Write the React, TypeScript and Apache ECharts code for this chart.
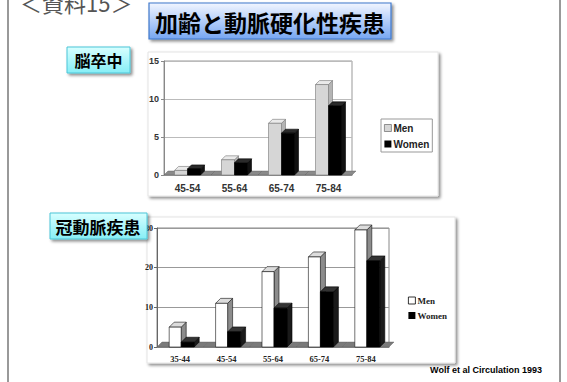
import React, { useEffect, useRef } from "react";
import * as echarts from "echarts";

const cats1 = ["45-54", "55-64", "65-74", "75-84"];
const men1 = [0.6, 2.0, 6.8, 11.9];
const women1 = [0.8, 1.6, 5.5, 9.1];

const cats2 = ["35-44", "45-54", "55-64", "65-74", "75-84"];
const men2 = [5, 11, 19, 22.7, 29.5];
const women2 = [1.2, 3.8, 9.8, 13.9, 21.7];

const legendNames = ["Men", "Women"];
const titleText = "加齢と動脈硬化性疾患";
const label1 = "脳卒中";
const label2 = "冠動脈疾患";
const cornerText = "＜資料15＞";
const sourceText = "Wolf et al Circulation 1993";

type BarStyle = {
  offset: number;
  bw: number;
  d: number;
  front: string;
  side: string;
  top: string;
  stroke: string;
  floor?: string;
};

function make3DRender(s: BarStyle) {
  return (params: any, api: any) => {
    const ci = api.value(0);
    const v = api.value(1);
    const p0 = api.coord([ci, 0]);
    const p1 = api.coord([ci, v]);
    const cx = p0[0];
    const y0 = p0[1];
    const y1 = p1[1];
    const x0 = cx + s.offset;
    const x1 = x0 + s.bw;
    const d = s.d;
    const children: any[] = [];
    if (s.floor) {
      const band = api.size([1, 0])[0];
      children.push({
        type: "polygon",
        shape: {
          points: [
            [cx - band / 2, y0],
            [cx + band / 2, y0],
            [cx + band / 2 + d, y0 - d],
            [cx - band / 2 + d, y0 - d],
          ],
        },
        style: { fill: s.floor, stroke: "#555", lineWidth: 0.4 },
      });
    }
    children.push({
      type: "polygon",
      shape: { points: [[x1, y1], [x1 + d, y1 - d], [x1 + d, y0 - d], [x1, y0]] },
      style: { fill: s.side, stroke: s.stroke, lineWidth: 0.6 },
    });
    children.push({
      type: "polygon",
      shape: { points: [[x0, y1], [x0 + d, y1 - d], [x1 + d, y1 - d], [x1, y1]] },
      style: { fill: s.top, stroke: s.stroke, lineWidth: 0.6 },
    });
    children.push({
      type: "rect",
      shape: { x: x0, y: y1, width: s.bw, height: y0 - y1 },
      style: { fill: s.front, stroke: s.stroke, lineWidth: 0.6 },
    });
    return { type: "group", children };
  };
}

export default function App() {
  const ref = useRef<HTMLDivElement>(null);
  useEffect(() => {
    if (!ref.current) return;
    const chart = echarts.init(ref.current, undefined, { renderer: "svg" });
    const sans = "Liberation Sans";
    const serif = "Liberation Serif";
    const cjk = "Noto Sans CJK JP";

    const option: any = {
      animation: false,
      backgroundColor: "#ffffff",
      grid: [
        { left: 164, top: 61, width: 188, height: 114, show: true, borderColor: "#999", borderWidth: 1, backgroundColor: "transparent" },
        { left: 157, top: 228, width: 232, height: 119, show: true, borderColor: "#888", borderWidth: 1, backgroundColor: "transparent" },
      ],
      xAxis: [
        {
          type: "category", gridIndex: 0, data: cats1,
          axisLine: { show: true, lineStyle: { color: "#999" } },
          axisTick: { show: false },
          axisLabel: { fontFamily: sans, fontWeight: "bold", fontSize: 10, color: "#333", margin: 8 },
        },
        {
          type: "category", gridIndex: 1, data: cats2,
          axisLine: { show: true, lineStyle: { color: "#888" } },
          axisTick: { show: false },
          axisLabel: { fontFamily: serif, fontWeight: "bold", fontSize: 8.5, color: "#222", margin: 7 },
        },
      ],
      yAxis: [
        {
          type: "value", gridIndex: 0, min: 0, max: 15, interval: 5,
          axisLine: { show: true, lineStyle: { color: "#888" } },
          axisTick: { show: true, length: 3, lineStyle: { color: "#888" } },
          splitLine: { show: true, lineStyle: { color: "#bbb", width: 1 } },
          axisLabel: { fontFamily: sans, fontWeight: "bold", fontSize: 9, color: "#333", margin: 5 },
        },
        {
          type: "value", gridIndex: 1, min: 0, max: 30, interval: 10,
          axisLine: { show: true, lineStyle: { color: "#666" } },
          axisTick: { show: true, length: 3, lineStyle: { color: "#666" } },
          splitLine: { show: true, lineStyle: { color: "#999", width: 1 } },
          axisLabel: { fontFamily: serif, fontWeight: "bold", fontSize: 8, color: "#222", margin: 4 },
        },
      ],
      legend: [
        {
          data: [
            { name: legendNames[0], icon: "rect", itemStyle: { color: "#d6d6d6", borderColor: "#777", borderWidth: 0.8 } },
            { name: legendNames[1], icon: "rect", itemStyle: { color: "#000", borderColor: "#000", borderWidth: 0 } },
          ],
          left: 381, top: 119, orient: "vertical",
          itemWidth: 7, itemHeight: 7, itemGap: 6,
          padding: [4, 3, 3, 3],
          borderColor: "#999", borderWidth: 1,
          selectedMode: false,
          textStyle: { fontFamily: sans, fontWeight: "bold", fontSize: 10, color: "#222", padding: [0, 0, 0, -3] },
        },
        {
          data: [
            { name: legendNames[0], icon: "rect", itemStyle: { color: "#fff", borderColor: "#000", borderWidth: 0.8 } },
            { name: legendNames[1], icon: "rect", itemStyle: { color: "#000", borderColor: "#000", borderWidth: 0 } },
          ],
          left: 406, top: 294, orient: "vertical",
          itemWidth: 7, itemHeight: 7, itemGap: 6,
          padding: [2, 2, 2, 2],
          selectedMode: false,
          textStyle: { fontFamily: serif, fontWeight: "bold", fontSize: 9, color: "#222", padding: [0, 0, 0, -3] },
        },
      ],
      series: [
        {
          type: "custom", name: legendNames[0], xAxisIndex: 0, yAxisIndex: 0, clip: false,
          itemStyle: { color: "#d6d6d6" },
          renderItem: make3DRender({ offset: -13, bw: 13, d: 4, front: "#d6d6d6", side: "#b4b4b4", top: "#eaeaea", stroke: "#777", floor: "#8a8a8a" }),
          data: men1.map((v, i) => [i, v]),
          encode: { x: 0, y: 1 },
        },
        {
          type: "custom", name: legendNames[1], xAxisIndex: 0, yAxisIndex: 0, clip: false,
          itemStyle: { color: "#000" },
          renderItem: make3DRender({ offset: 0, bw: 13, d: 4, front: "#000", side: "#111", top: "#2a2a2a", stroke: "#000" }),
          data: women1.map((v, i) => [i, v]),
          encode: { x: 0, y: 1 },
        },
        {
          type: "custom", name: legendNames[0], xAxisIndex: 1, yAxisIndex: 1, clip: false,
          itemStyle: { color: "#fff" },
          renderItem: make3DRender({ offset: -11, bw: 12, d: 5, front: "#ffffff", side: "#8c8c8c", top: "#dcdcdc", stroke: "#111", floor: "#7a7a7a" }),
          data: men2.map((v, i) => [i, v]),
          encode: { x: 0, y: 1 },
        },
        {
          type: "custom", name: legendNames[1], xAxisIndex: 1, yAxisIndex: 1, clip: false,
          itemStyle: { color: "#000" },
          renderItem: make3DRender({ offset: 1, bw: 13, d: 5, front: "#000", side: "#1a1a1a", top: "#333", stroke: "#000" }),
          data: women2.map((v, i) => [i, v]),
          encode: { x: 0, y: 1 },
        },
      ],
      graphic: [
        { type: "line", z: -10, shape: { x1: 8, y1: 0, x2: 8, y2: 382 }, style: { stroke: "#777", lineWidth: 1.5 } },
        { type: "line", z: -10, shape: { x1: 560, y1: 0, x2: 560, y2: 382 }, style: { stroke: "#777", lineWidth: 1.5 } },
        {
          type: "text", z: -10, left: 20, top: -9,
          style: { text: cornerText, font: `normal 22px "${cjk}"`, fill: "#555" },
        },
        // panels
        {
          type: "rect", z: -20, shape: { x: 148, y: 52, width: 290, height: 144 },
          style: { fill: "#fff", stroke: "#e4e4e4", lineWidth: 1, shadowBlur: 3, shadowColor: "rgba(0,0,0,0.45)", shadowOffsetX: 2, shadowOffsetY: 2 },
        },
        {
          type: "rect", z: -20, shape: { x: 147, y: 217, width: 308, height: 146 },
          style: { fill: "#fff", stroke: "#e4e4e4", lineWidth: 1, shadowBlur: 3, shadowColor: "rgba(0,0,0,0.45)", shadowOffsetX: 2, shadowOffsetY: 2 },
        },
        // title box
        {
          type: "rect", z: 5, shape: { x: 149, y: 3, width: 242, height: 36 },
          style: {
            fill: new echarts.graphic.LinearGradient(0, 0, 0, 1, [
              { offset: 0, color: "#f2f6ff" },
              { offset: 1, color: "#76a6f2" },
            ]),
            stroke: "#3f78cc", lineWidth: 1.2,
            shadowBlur: 3, shadowColor: "rgba(0,0,0,0.45)", shadowOffsetX: 2, shadowOffsetY: 2,
          },
        },
        {
          type: "text", z: 6, x: 270, y: 22,
          style: { text: titleText, font: `bold 23px "${cjk}"`, fill: "#000", align: "center", verticalAlign: "middle" },
        },
        // label 1
        {
          type: "rect", z: 5, shape: { x: 67, y: 47, width: 63, height: 26 },
          style: {
            fill: new echarts.graphic.LinearGradient(0, 0, 0, 1, [
              { offset: 0, color: "#d8ffff" },
              { offset: 1, color: "#86eef6" },
            ]),
            stroke: "#4cc6d8", lineWidth: 1,
            shadowBlur: 3, shadowColor: "rgba(0,0,0,0.45)", shadowOffsetX: 2, shadowOffsetY: 2,
          },
        },
        {
          type: "text", z: 6, x: 98.5, y: 60,
          style: { text: label1, font: `bold 16px "${cjk}"`, fill: "#000", align: "center", verticalAlign: "middle" },
        },
        // label 2
        {
          type: "rect", z: 5, shape: { x: 50, y: 213, width: 97, height: 26 },
          style: {
            fill: new echarts.graphic.LinearGradient(0, 0, 0, 1, [
              { offset: 0, color: "#d8ffff" },
              { offset: 1, color: "#86eef6" },
            ]),
            stroke: "#4cc6d8", lineWidth: 1,
            shadowBlur: 3, shadowColor: "rgba(0,0,0,0.45)", shadowOffsetX: 2, shadowOffsetY: 2,
          },
        },
        {
          type: "text", z: 6, x: 98, y: 226,
          style: { text: label2, font: `bold 17px "${cjk}"`, fill: "#000", align: "center", verticalAlign: "middle" },
        },
        // source
        {
          type: "text", z: 6, x: 486, y: 370,
          style: { text: sourceText, font: `bold 9px "${sans}"`, fill: "#000", align: "center", verticalAlign: "middle" },
        },
      ],
    };
    chart.setOption(option);
    return () => chart.dispose();
  }, []);
  return (
    <div
      ref={ref}
      style={{ position: "absolute", left: 0, top: 0, width: 567, height: 382 }}
    />
  );
}
